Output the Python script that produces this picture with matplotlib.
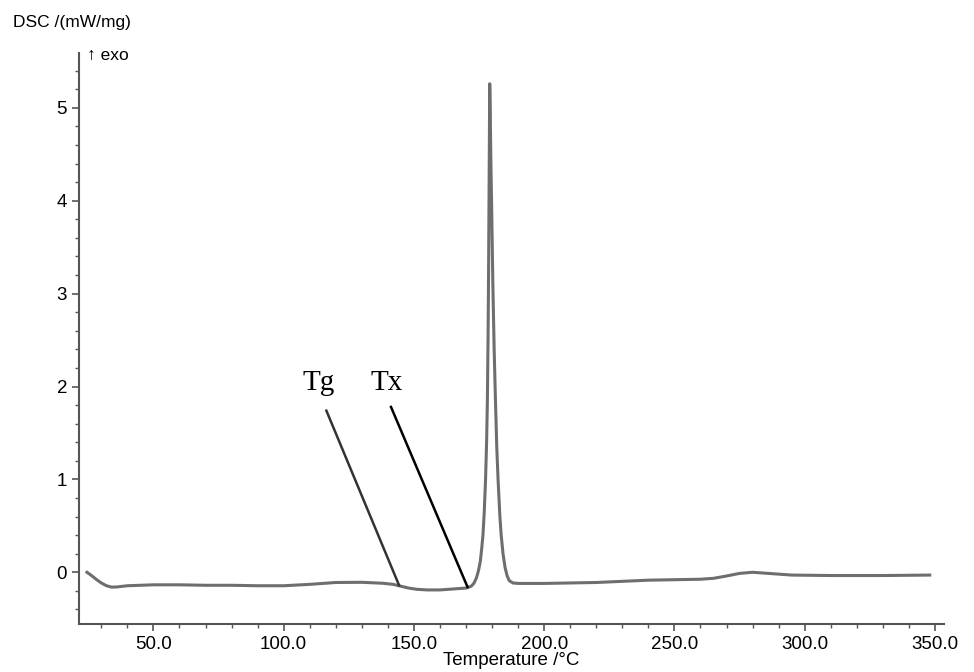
import matplotlib
matplotlib.use('Agg')
import matplotlib.pyplot as plt
from matplotlib.ticker import MultipleLocator, FormatStrFormatter

plt.rcParams['font.family'] = ['Liberation Sans', 'DejaVu Sans']

# кривая ДСК
temp = [24.5, 26, 28, 30, 32, 34, 36, 40, 50, 60, 70, 80, 90, 100, 110, 120, 130, 138,
        142, 145, 148, 151, 155, 160, 165, 170, 172, 173, 174, 174.8, 175.5, 176, 176.5,
        177, 177.5, 177.9, 178.2, 178.45, 178.65, 178.85, 179.0, 179.1, 179.3, 179.55,
        179.8, 180.3, 180.8, 181.3, 181.8, 182.3, 183.0, 183.5, 184.2, 185, 185.8, 186.6,
        188, 190, 200, 220, 240, 260, 265, 270, 275, 280, 285, 290, 295, 310, 330, 348]
dsc = [0.0, -0.03, -0.075, -0.115, -0.145, -0.16, -0.158, -0.145, -0.135, -0.135, -0.14,
       -0.14, -0.145, -0.145, -0.13, -0.11, -0.108, -0.118, -0.13, -0.15, -0.17, -0.183,
       -0.19, -0.19, -0.18, -0.17, -0.15, -0.12, -0.06, 0.02, 0.12, 0.25, 0.4, 0.65, 1.0,
       1.4, 1.85, 2.5, 3.2, 4.1, 4.8, 5.26, 4.95, 4.4, 4.0, 3.1, 2.4, 1.85, 1.35, 1.0, 0.6,
       0.4, 0.2, 0.05, -0.04, -0.09, -0.115, -0.12, -0.12, -0.11, -0.085, -0.075, -0.065,
       -0.04, -0.012, 0.0, -0.01, -0.02, -0.03, -0.035, -0.035, -0.03]

# выноски Tg и Tx
tg_line_t = [116.4, 144.3]
tg_line_y = [1.74, -0.14]
tx_line_t = [141.2, 170.6]
tx_line_y = [1.78, -0.16]

fig = plt.figure(figsize=(9.74, 6.72), dpi=100)
ax = fig.add_axes([0.081, 0.071, 0.888, 0.85])

ax.plot(temp, dsc, color='#6e6e6e', lw=2.2, solid_joinstyle='round')
ax.plot(tg_line_t, tg_line_y, color='#333333', lw=1.8)
ax.plot(tx_line_t, tx_line_y, color='black', lw=1.8)

ax.text(113.4, 2.04, 'Tg', family='Liberation Serif', fontsize=21, ha='center', va='center')
ax.text(139.5, 2.04, 'Tx', family='Liberation Serif', fontsize=21, ha='center', va='center')

ax.set_xlim(21.4, 353.4)
ax.set_ylim(-0.56, 5.59)
ax.xaxis.set_major_locator(MultipleLocator(50))
ax.xaxis.set_minor_locator(MultipleLocator(10))
ax.xaxis.set_major_formatter(FormatStrFormatter('%.1f'))
ax.yaxis.set_major_locator(MultipleLocator(1))
ax.yaxis.set_minor_locator(MultipleLocator(0.2))

for s in ['top', 'right']:
    ax.spines[s].set_visible(False)
for s in ['left', 'bottom']:
    ax.spines[s].set_color('#555555')
    ax.spines[s].set_linewidth(1.5)
ax.tick_params(which='major', length=5, width=1.2, color='#555555', labelsize=13.5, direction='out')
ax.tick_params(which='minor', length=3, width=1.0, color='#555555', direction='out')

ax.set_xlabel('Temperature /°C', fontsize=13.5, labelpad=-1)
fig.text(0.013, 0.967, 'DSC /(mW/mg)', fontsize=12.5, ha='left', va='center')
fig.text(0.089, 0.918, '↑ exo', fontsize=12.5, ha='left', va='center')

plt.savefig('out.png', dpi=100)
